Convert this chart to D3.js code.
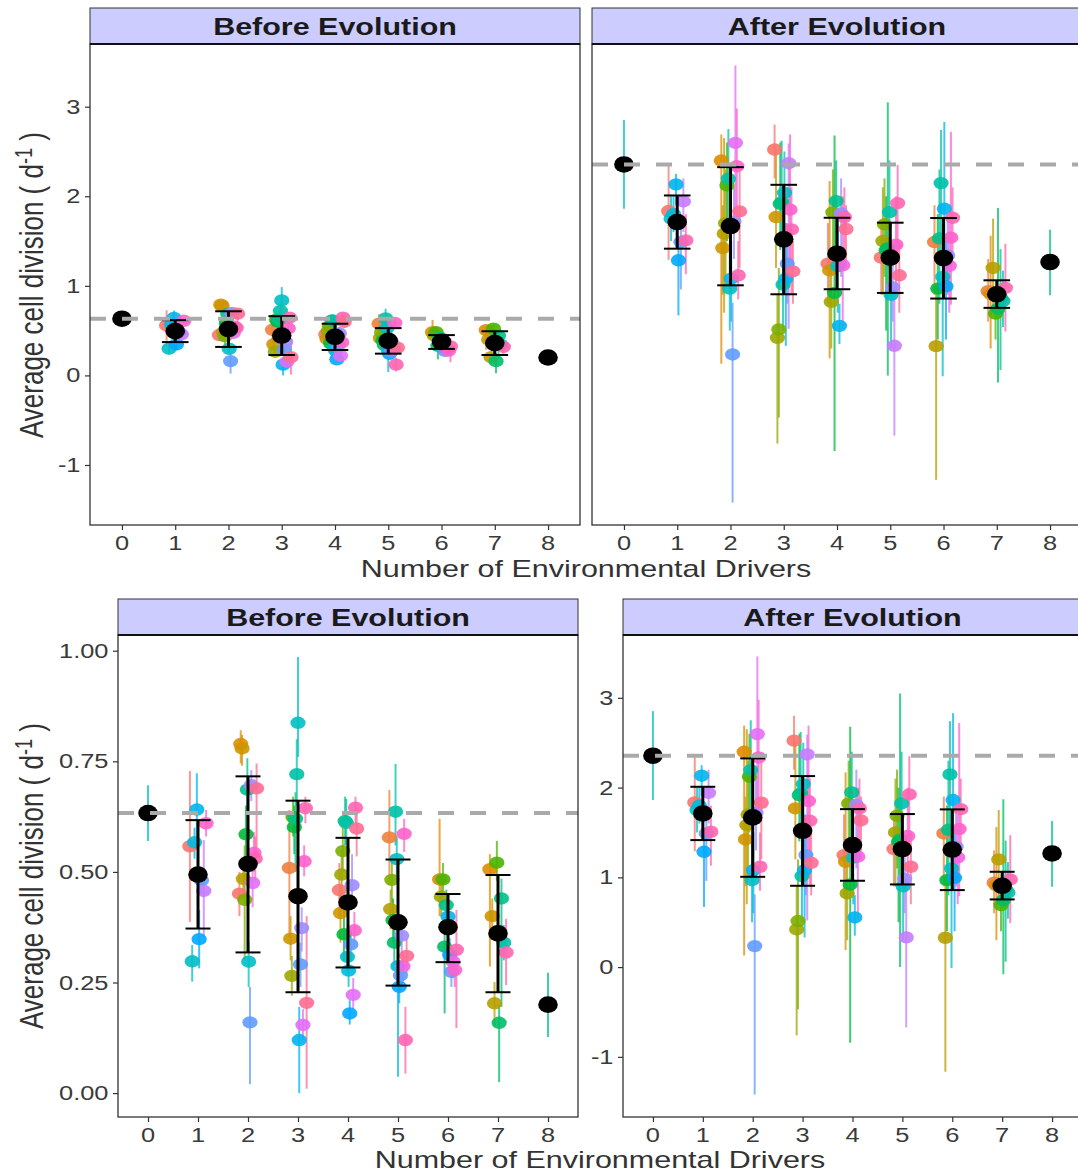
<!DOCTYPE html>
<html>
<head>
<meta charset="utf-8">
<script src="https://cdn.jsdelivr.net/npm/d3@7"></script>
<style>
  body { margin: 0; background: #fff; }
  svg { display: block; }
</style>
</head>
<body>
<svg id="chart" width="1078" height="1173"></svg>
<script>
// ---------------------------------------------------------------
// Data: number of environmental drivers and growth estimates
// Each combination row: [combination level, rate, lower, upper]
// ---------------------------------------------------------------
const drivers = [0, 1, 2, 3, 4, 5, 6, 7, 8];
const xTickLabels = ["0", "1", "2", "3", "4", "5", "6", "7", "8"];
const yTicksWide = [-1, 0, 1, 2, 3];
const yTicksWideLabels = ["-1", "0", "1", "2", "3"];
const yTicksNarrow = [0, 0.25, 0.5, 0.75, 1];
const yTicksNarrowLabels = ["0.00", "0.25", "0.50", "0.75", "1.00"];

// Before evolution
const before0 = [[12, 0.633, 0.570, 0.696]];
const before1 = [
  [0, 0.558, 0.387, 0.728], [12, 0.298, 0.252, 0.335], [13, 0.567, 0.530, 0.600],
  [14, 0.641, 0.565, 0.723], [15, 0.348, 0.282, 0.414], [16, 0.481, 0.450, 0.510],
  [18, 0.457, 0.353, 0.572], [21, 0.610, 0.580, 0.640]
];
const before2 = [
  [0, 0.451, 0.400, 0.500], [2, 0.789, 0.745, 0.820], [3, 0.779, 0.740, 0.810],
  [4, 0.484, 0.440, 0.530], [6, 0.437, 0.300, 0.560], [8, 0.585, 0.520, 0.650],
  [10, 0.686, 0.600, 0.757], [12, 0.297, 0.240, 0.340], [16, 0.160, 0.020, 0.240],
  [17, 0.696, 0.660, 0.730], [19, 0.475, 0.420, 0.530], [21, 0.543, 0.500, 0.590],
  [22, 0.530, 0.480, 0.580], [23, 0.689, 0.530, 0.745]
];
const before3 = [
  [1, 0.509, 0.350, 0.640], [3, 0.349, 0.300, 0.400], [5, 0.265, 0.220, 0.310],
  [7, 0.624, 0.580, 0.670], [8, 0.601, 0.540, 0.650], [10, 0.620, 0.500, 0.680],
  [11, 0.721, 0.650, 0.800], [12, 0.837, 0.760, 0.986], [14, 0.120, 0.000, 0.195],
  [16, 0.291, 0.240, 0.340], [17, 0.373, 0.320, 0.420], [19, 0.154, 0.120, 0.190],
  [21, 0.524, 0.490, 0.560], [22, 0.644, 0.610, 0.670], [23, 0.204, 0.010, 0.400]
];
const before4 = [
  [0, 0.459, 0.400, 0.520], [3, 0.407, 0.340, 0.470], [5, 0.494, 0.440, 0.550],
  [6, 0.547, 0.500, 0.600], [8, 0.359, 0.300, 0.420], [10, 0.615, 0.560, 0.670],
  [11, 0.611, 0.560, 0.665], [12, 0.308, 0.270, 0.340], [13, 0.277, 0.240, 0.310],
  [15, 0.180, 0.155, 0.210], [16, 0.336, 0.300, 0.370], [17, 0.470, 0.420, 0.540],
  [19, 0.222, 0.190, 0.260], [21, 0.368, 0.330, 0.410], [22, 0.645, 0.610, 0.670],
  [23, 0.598, 0.535, 0.640]
];
const before5 = [
  [1, 0.578, 0.470, 0.685], [4, 0.416, 0.370, 0.460], [6, 0.482, 0.430, 0.530],
  [8, 0.391, 0.340, 0.440], [9, 0.340, 0.290, 0.390], [11, 0.636, 0.560, 0.744],
  [12, 0.529, 0.480, 0.580], [13, 0.287, 0.037, 0.330], [15, 0.240, 0.203, 0.280],
  [16, 0.266, 0.230, 0.300], [17, 0.356, 0.310, 0.400], [20, 0.287, 0.250, 0.320],
  [21, 0.586, 0.545, 0.620], [22, 0.120, 0.044, 0.195], [23, 0.310, 0.270, 0.350]
];
const before6 = [
  [2, 0.483, 0.400, 0.620], [5, 0.444, 0.400, 0.480], [7, 0.483, 0.440, 0.520],
  [9, 0.331, 0.180, 0.380], [10, 0.425, 0.390, 0.460], [14, 0.399, 0.360, 0.440],
  [15, 0.312, 0.270, 0.350], [16, 0.274, 0.240, 0.300], [20, 0.297, 0.260, 0.330],
  [21, 0.278, 0.240, 0.310], [22, 0.324, 0.147, 0.414]
];
const before7 = [
  [2, 0.506, 0.286, 0.540], [3, 0.400, 0.360, 0.440], [4, 0.203, 0.150, 0.251],
  [7, 0.521, 0.480, 0.570], [9, 0.159, 0.025, 0.200], [10, 0.440, 0.195, 0.485],
  [11, 0.340, 0.300, 0.380], [22, 0.318, 0.244, 0.394]
];
const before8 = [[10, 0.200, 0.127, 0.272]];
const beforeMean = [0.633, 0.494, 0.518, 0.445, 0.431, 0.386, 0.375, 0.361, 0.200];
const beforeLo   = [null, 0.372, 0.318, 0.228, 0.284, 0.243, 0.296, 0.228, null];
const beforeHi   = [null, 0.617, 0.716, 0.661, 0.577, 0.528, 0.450, 0.493, null];

// After evolution
const after0 = [[12, 2.355, 1.861, 2.852]];
const after1 = [
  [0, 1.835, 1.290, 2.340], [12, 1.750, 1.500, 2.000], [13, 1.800, 1.600, 2.000],
  [14, 2.132, 1.900, 2.250], [15, 1.285, 0.670, 1.500], [16, 1.489, 0.960, 1.700],
  [18, 1.942, 1.600, 2.200], [22, 1.508, 1.130, 1.800]
];
const after2 = [
  [2, 2.399, 0.130, 2.690], [3, 1.422, 0.900, 1.900], [4, 1.582, 0.700, 2.650],
  [5, 1.700, 1.000, 2.300], [7, 2.121, 1.500, 2.600], [11, 2.195, 1.700, 2.750],
  [12, 0.969, 0.500, 1.400], [14, 1.081, 0.600, 1.500], [16, 0.234, -1.420, 0.810],
  [17, 1.720, 1.300, 2.100], [19, 2.596, 1.800, 3.460], [21, 2.336, 1.600, 2.980],
  [22, 1.118, 0.850, 1.500], [23, 1.831, 1.200, 2.300]
];
const after3 = [
  [0, 2.522, 2.200, 2.800], [3, 1.768, 1.200, 2.520], [5, 0.420, -0.760, 0.900],
  [6, 0.513, -0.470, 1.200], [9, 1.915, 1.400, 2.600], [10, 1.935, 1.500, 2.620],
  [11, 1.014, 0.500, 1.600], [12, 2.039, 1.500, 2.500], [14, 1.081, 0.330, 1.700],
  [16, 1.248, 0.800, 1.700], [18, 2.369, 0.520, 2.590], [21, 1.850, 1.300, 2.690],
  [22, 1.630, 0.900, 2.100], [23, 1.162, 0.800, 1.500]
];
const after4 = [
  [0, 1.248, 0.800, 1.700], [3, 1.173, 0.190, 2.170], [5, 0.821, 0.300, 1.400],
  [6, 1.823, 1.300, 2.300], [8, 0.921, -0.843, 2.678], [10, 1.946, 1.200, 2.400],
  [12, 1.220, 0.700, 1.800], [14, 0.553, 0.350, 0.800], [17, 1.810, 1.100, 2.200],
  [20, 1.230, 0.520, 2.000], [22, 1.768, 1.200, 2.100], [23, 1.634, 1.200, 1.900]
];
const after5 = [
  [0, 1.315, 0.900, 1.700], [5, 1.500, 0.900, 2.100], [6, 1.686, 1.100, 2.200],
  [8, 1.397, 0.500, 2.000], [9, 1.420, 0.000, 3.049], [11, 1.823, 1.200, 2.400],
  [12, 0.900, 0.300, 1.400], [17, 0.984, 0.600, 1.400], [18, 0.331, -0.672, 1.000],
  [21, 1.460, 0.900, 2.000], [22, 1.924, 1.300, 2.350], [23, 1.118, 0.700, 1.500]
];
const after6 = [
  [1, 1.489, 0.900, 1.900], [4, 0.327, -1.166, 1.000], [8, 0.969, 0.400, 1.800],
  [10, 1.530, 0.800, 2.300], [11, 2.147, 1.300, 2.740], [12, 1.100, -0.010, 1.700],
  [14, 1.861, 1.200, 2.830], [15, 0.995, 0.400, 1.500], [17, 1.340, 0.900, 1.800],
  [20, 1.222, 0.700, 1.700], [21, 1.538, 0.790, 2.720], [22, 1.760, 1.300, 2.100]
];
const after7 = [
  [1, 0.940, 0.600, 1.300], [2, 0.910, 0.300, 1.560], [4, 1.200, 0.700, 1.750],
  [7, 0.691, 0.400, 1.000], [9, 0.745, -0.080, 1.870], [10, 0.865, 0.060, 1.410],
  [11, 0.830, 0.540, 1.170], [22, 0.977, 0.490, 1.470]
];
const after8 = [[10, 1.266, 0.895, 1.627]];
const afterMean = [2.355, 1.712, 1.668, 1.519, 1.359, 1.315, 1.310, 0.906, 1.266];
const afterLo   = [null, 1.415, 1.006, 0.906, 0.962, 0.921, 0.858, 0.754, null];
const afterHi   = [null, 2.009, 2.325, 2.128, 1.760, 1.705, 1.757, 1.062, null];

const beforeGroups = [before0, before1, before2, before3, before4, before5, before6, before7, before8];
const afterGroups  = [after0, after1, after2, after3, after4, after5, after6, after7, after8];

// ---------------------------------------------------------------
// Discrete hue palette (polar CIELUV, c = 100, l = 65)
// ---------------------------------------------------------------
function hclLuv(h, c, l) {
  const hr = h * Math.PI / 180;
  const U = c * Math.cos(hr), V = c * Math.sin(hr);
  const Xn = 95.047, Yn = 100.0, Zn = 108.883;
  const Y = Yn * (l > 8 ? Math.pow((l + 16) / 116, 3) : l / 903.3);
  const t = Xn + 15 * Yn + 3 * Zn;
  const u = U / (13 * l) + 4 * Xn / t;
  const v = V / (13 * l) + 9 * Yn / t;
  const X = Y * 9 * u / (4 * v);
  const Z = Y * (12 - 3 * u - 20 * v) / (4 * v);
  const x = X / 100, y = Y / 100, z = Z / 100;
  const lin = [
    3.240479 * x - 1.537150 * y - 0.498535 * z,
    -0.969256 * x + 1.875992 * y + 0.041556 * z,
    0.055648 * x - 0.204043 * y + 1.057311 * z
  ];
  const g = lin.map(c => {
    const s = c <= 0.0031308 ? 12.92 * c : 1.055 * Math.pow(c, 1 / 2.4) - 0.055;
    return Math.round(Math.max(0, Math.min(1, s)) * 255);
  });
  return d3.rgb(g[0], g[1], g[2]).formatHex();
}
const nLevels = 24;
const palette = d3.range(nLevels).map(i => hclLuv(15 + 360 * i / nLevels, 100, 65));
const color = d3.scaleOrdinal().domain(d3.range(nLevels)).range(palette);

// ---------------------------------------------------------------
// Layout
// ---------------------------------------------------------------
const FONT = "'Liberation Sans', Arial, Helvetica, sans-serif";
const SX = 1.27;            // horizontal text stretch of the figure
const dodgeWidth = 0.37;

const svg = d3.select("#chart");
svg.append("rect").attr("width", 1078).attr("height", 1173).attr("fill", "#fff");

function label(g, x, y, str, o = {}) {
  return g.append("text")
    .attr("transform", `translate(${x},${y}) scale(${SX},1)`)
    .attr("text-anchor", o.anchor || "middle")
    .attr("font-family", FONT)
    .attr("font-size", o.size || 20)
    .attr("font-weight", o.weight || "normal")
    .attr("fill", o.fill || "#4d4d4d")
    .text(str);
}

const panels = [
  { id: "p1", x0: 90, x1: 580, y0: 44, y1: 525, stripTop: 8, yDomain: [-1.67, 3.70],
    groups: beforeGroups, mean: beforeMean, lo: beforeLo, hi: beforeHi,
    title: "Before Evolution", yTicks: yTicksWide, yLabels: yTicksWideLabels },
  { id: "p2", x0: 592, x1: 1082, y0: 44, y1: 525, stripTop: 8, yDomain: [-1.67, 3.70],
    groups: afterGroups, mean: afterMean, lo: afterLo, hi: afterHi,
    title: "After Evolution", yTicks: null },
  { id: "p3", x0: 118, x1: 578, y0: 635, y1: 1117, stripTop: 599, yDomain: [-0.054, 1.0355],
    groups: beforeGroups, mean: beforeMean, lo: beforeLo, hi: beforeHi,
    title: "Before Evolution", yTicks: yTicksNarrow, yLabels: yTicksNarrowLabels },
  { id: "p4", x0: 623, x1: 1082, y0: 635, y1: 1117, stripTop: 599, yDomain: [-1.67, 3.70],
    groups: afterGroups, mean: afterMean, lo: afterLo, hi: afterHi,
    title: "After Evolution", yTicks: yTicksWide, yLabels: yTicksWideLabels }
];

const defs = svg.append("defs");

panels.forEach(p => {
  const x = d3.scaleLinear().domain([-0.6, 8.6]).range([p.x0, p.x1]);
  const y = d3.scaleLinear().domain(p.yDomain).range([p.y1, p.y0]);
  const g = svg.append("g");

  defs.append("clipPath").attr("id", "clip-" + p.id)
    .append("rect").attr("x", p.x0).attr("y", p.y0)
    .attr("width", p.x1 - p.x0).attr("height", p.y1 - p.y0);

  const plot = g.append("g").attr("clip-path", `url(#clip-${p.id})`);

  // flatten combinations with dodge offsets by combination level
  const rows = [];
  p.groups.forEach((grp, gi) => {
    const sorted = grp.slice().sort((a, b) => a[0] - b[0]);
    const k = sorted.length;
    sorted.forEach((r, rank) => {
      rows.push({ n: drivers[gi], level: r[0], v: r[1], lo: r[2], hi: r[3],
                  off: ((rank + 0.5) / k - 0.5) * dodgeWidth });
    });
  });

  // combination error ranges
  plot.append("g").selectAll("line").data(rows).join("line")
    .attr("x1", d => x(d.n + d.off)).attr("x2", d => x(d.n + d.off))
    .attr("y1", d => y(d.lo)).attr("y2", d => y(d.hi))
    .attr("stroke", d => color(d.level)).attr("stroke-width", 2)
    .attr("stroke-opacity", 0.75);

  // combination points
  plot.append("g").selectAll("ellipse").data(rows).join("ellipse")
    .attr("cx", d => x(d.n + d.off)).attr("cy", d => y(d.v))
    .attr("rx", 7.6).attr("ry", 6.2)
    .attr("fill", d => color(d.level)).attr("fill-opacity", 0.9);

  // overall mean with error bars
  const summary = drivers.map((n, i) => ({ n, m: p.mean[i], lo: p.lo[i], hi: p.hi[i] }));
  const bars = summary.filter(d => d.lo !== null);
  const eb = plot.append("g").attr("stroke", "#000");
  eb.selectAll("line.v").data(bars).join("line").attr("class", "v")
    .attr("x1", d => x(d.n)).attr("x2", d => x(d.n))
    .attr("y1", d => y(d.lo)).attr("y2", d => y(d.hi)).attr("stroke-width", 3);
  eb.selectAll("line.cl").data(bars).join("line").attr("class", "cl")
    .attr("x1", d => x(d.n - 0.25)).attr("x2", d => x(d.n + 0.25))
    .attr("y1", d => y(d.lo)).attr("y2", d => y(d.lo)).attr("stroke-width", 2);
  eb.selectAll("line.ch").data(bars).join("line").attr("class", "ch")
    .attr("x1", d => x(d.n - 0.25)).attr("x2", d => x(d.n + 0.25))
    .attr("y1", d => y(d.hi)).attr("y2", d => y(d.hi)).attr("stroke-width", 2);

  plot.append("g").selectAll("ellipse").data(summary).join("ellipse")
    .attr("cx", d => x(d.n)).attr("cy", d => y(d.m))
    .attr("rx", 9.8).attr("ry", 8.3).attr("fill", "#000");

  // reference: no-driver level
  plot.append("line")
    .attr("x1", p.x0).attr("x2", p.x1)
    .attr("y1", y(p.mean[0])).attr("y2", y(p.mean[0]))
    .attr("stroke", "#aaaaaa").attr("stroke-width", 4)
    .attr("stroke-dasharray", "16 16");

  // panel frame
  g.append("rect").attr("x", p.x0).attr("y", p.y0)
    .attr("width", p.x1 - p.x0).attr("height", p.y1 - p.y0)
    .attr("fill", "none").attr("stroke", "#333").attr("stroke-width", 1.3);

  // strip
  g.append("rect").attr("x", p.x0).attr("y", p.stripTop)
    .attr("width", p.x1 - p.x0).attr("height", p.y0 - p.stripTop)
    .attr("fill", "#ccccff").attr("stroke", "#333").attr("stroke-width", 1);
  g.append("line").attr("x1", p.x0).attr("x2", p.x1)
    .attr("y1", p.y0).attr("y2", p.y0)
    .attr("stroke", "#111").attr("stroke-width", 2);
  label(g, (p.x0 + p.x1) / 2, p.stripTop + 26.5, p.title,
        { size: 24, weight: "bold", fill: "#1a1a1a" });

  // x axis ticks
  const xa = g.append("g").attr("transform", `translate(0,${p.y1})`)
    .call(d3.axisBottom(x).tickValues(drivers).tickSize(5).tickFormat(""));
  xa.select(".domain").remove();
  xa.selectAll(".tick line").attr("stroke", "#333").attr("stroke-width", 1.2);
  drivers.forEach((n, i) => label(g, x(n), p.y1 + 25, xTickLabels[i], { fill: "#3a3a3a" }));

  // y axis ticks
  if (p.yTicks) {
    const ya = g.append("g").attr("transform", `translate(${p.x0},0)`)
      .call(d3.axisLeft(y).tickValues(p.yTicks).tickSize(5).tickFormat(""));
    ya.select(".domain").remove();
    ya.selectAll(".tick line").attr("stroke", "#333").attr("stroke-width", 1.2);
    p.yTicks.forEach((t, i) => label(g, p.x0 - 9.5, y(t) + 7, p.yLabels[i],
                                     { anchor: "end", fill: "#3a3a3a" }));
  }
});

// axis titles
function xTitle(cx, baseline) {
  label(svg, cx, baseline, "Number of Environmental Drivers", { size: 24, fill: "#333" });
}
function yTitle(bx, cy) {
  const t = svg.append("text")
    .attr("transform", `translate(${bx},${cy}) scale(${SX},1) rotate(-90)`)
    .attr("text-anchor", "middle")
    .attr("font-family", FONT).attr("font-size", 26).attr("fill", "#333");
  t.append("tspan").text("Average cell division ( d");
  t.append("tspan").attr("dy", "-0.45em").attr("font-size", "0.7em").text("-1");
  t.append("tspan").attr("dy", "0.32em").text(" )");
}
xTitle(586, 577);
xTitle(600, 1168);
yTitle(42.5, 285);
yTitle(42.5, 876);
</script>
</body>
</html>
